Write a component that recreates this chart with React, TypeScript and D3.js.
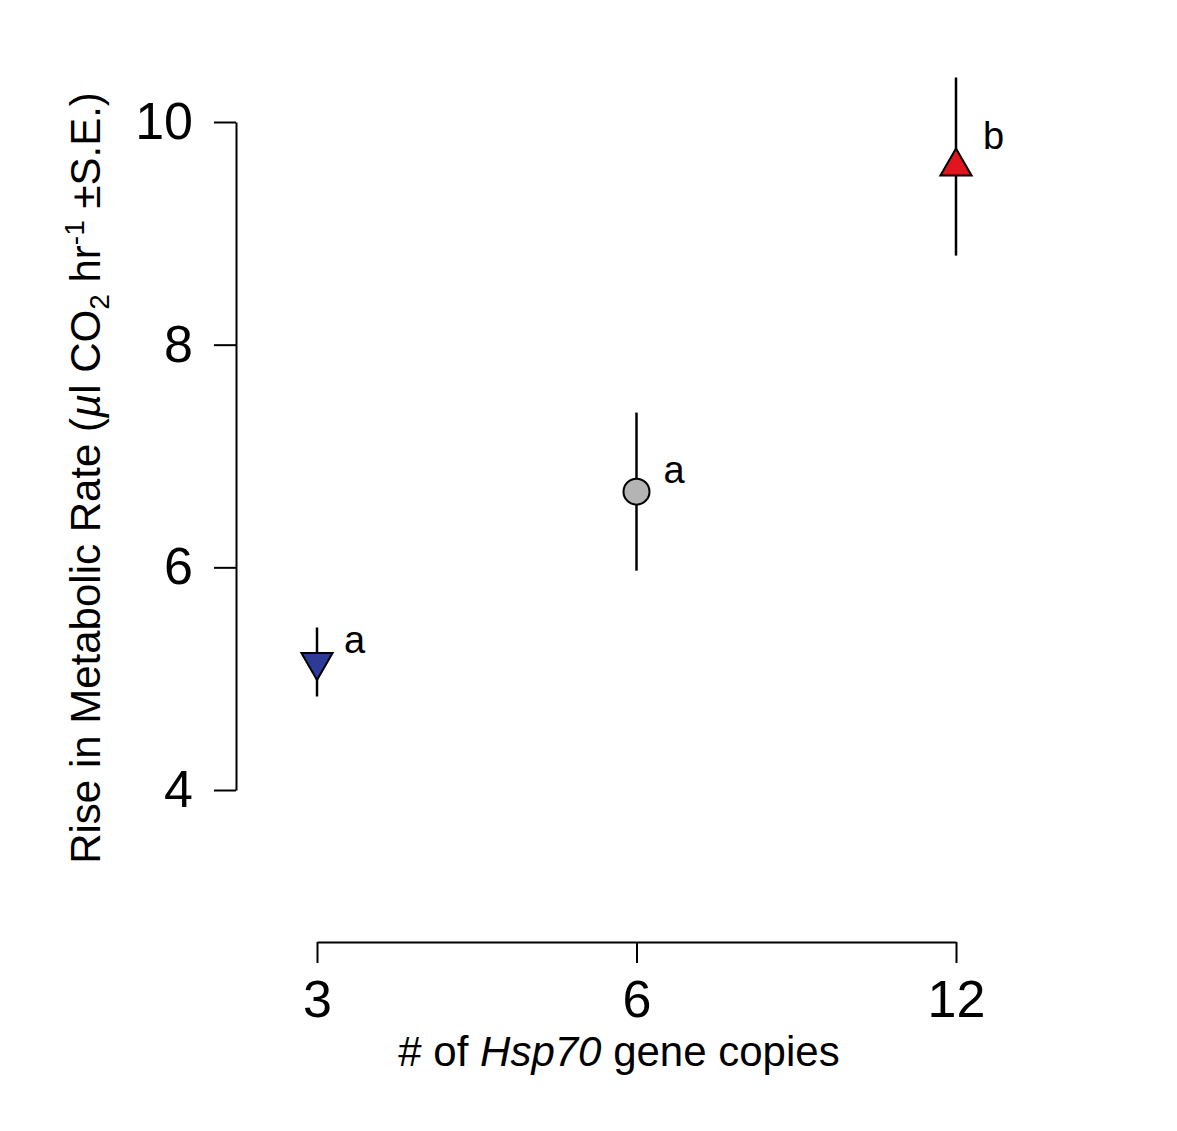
import React, { useRef, useEffect } from "react";
import * as d3 from "d3";

// gene copy groups and their measured rise in metabolic rate
const copies = ["3", "6", "12"];
const means = [5.15, 6.68, 9.6];
const se = [0.31, 0.71, 0.8];
const letters = ["a", "a", "b"];
const letterY = [5.23, 6.76, 9.76];
const yTicks = [4, 6, 8, 10];

const shapes = ["down", "circle", "up"];
const fills = ["#2b3b96", "#b4b4b4", "#e0151d"];

const W = 1177;
const H = 1131;
const FONT = "'Liberation Sans', Arial, Helvetica, sans-serif";

export default function App() {
  const ref = useRef<SVGSVGElement>(null);

  useEffect(() => {
    if (!ref.current) return;
    const svg = d3.select(ref.current);
    svg.selectAll("*").remove();

    const x = d3.scalePoint<string>().domain(copies).range([317, 956]);
    const y = d3.scaleLinear().domain([4, 10]).range([790, 122]);

    // y axis
    const ya = svg.append("g")
      .attr("transform", "translate(236,0)")
      .call(d3.axisLeft(y).tickValues(yTicks).tickSize(22).tickSizeOuter(0).tickPadding(21).tickFormat(d3.format("d")));
    ya.select(".domain").attr("stroke", "#000").attr("stroke-width", 2);
    ya.selectAll(".tick line").attr("stroke", "#000").attr("stroke-width", 2);
    ya.selectAll(".tick text").attr("font-size", 52).attr("font-family", FONT).attr("fill", "#000");

    // x axis
    const xa = svg.append("g")
      .attr("transform", "translate(0,942)")
      .call(d3.axisBottom(x).tickSize(21).tickSizeOuter(0).tickPadding(17));
    xa.select(".domain").attr("stroke", "#000").attr("stroke-width", 2);
    xa.selectAll(".tick line").attr("stroke", "#000").attr("stroke-width", 2);
    xa.selectAll(".tick text").attr("font-size", 52).attr("font-family", FONT).attr("fill", "#000");

    // error bars
    svg.append("g").selectAll("line")
      .data(copies)
      .join("line")
      .attr("x1", (d) => x(d)!)
      .attr("x2", (d) => x(d)!)
      .attr("y1", (d, i) => y(means[i] + se[i]))
      .attr("y2", (d, i) => y(means[i] - se[i]))
      .attr("stroke", "#000")
      .attr("stroke-width", 2.5);

    // points
    const tri = d3.symbol().type(d3.symbolTriangle).size(421);
    const circ = d3.symbol().type(d3.symbolCircle).size(531);
    svg.append("g").selectAll("path")
      .data(copies)
      .join("path")
      .attr("d", (d, i) => (shapes[i] === "circle" ? circ() : tri()) as string)
      .attr("transform", (d, i) =>
        `translate(${x(d)},${y(means[i])})` + (shapes[i] === "down" ? " rotate(180)" : ""))
      .attr("fill", (d, i) => fills[i])
      .attr("stroke", "#000")
      .attr("stroke-width", 2);

    // significance letters
    svg.append("g").selectAll("text")
      .data(copies)
      .join("text")
      .attr("x", (d) => x(d)! + 27)
      .attr("y", (d, i) => y(letterY[i]))
      .attr("font-size", 38)
      .attr("font-family", FONT)
      .text((d, i) => letters[i]);

    // x label
    const xl = svg.append("text")
      .attr("x", 619)
      .attr("y", 1066)
      .attr("text-anchor", "middle")
      .attr("font-size", 42)
      .attr("font-family", FONT);
    xl.append("tspan").text("# of ");
    xl.append("tspan").attr("font-style", "italic").text("Hsp70");
    xl.append("tspan").text(" gene copies");

    // y label
    const yl = svg.append("text")
      .attr("transform", "translate(100,478) rotate(-90)")
      .attr("text-anchor", "middle")
      .attr("font-size", 42)
      .attr("font-family", FONT);
    yl.append("tspan").text("Rise in Metabolic Rate (");
    yl.append("tspan").attr("font-style", "italic").text("\u00b5");
    yl.append("tspan").text("l CO");
    yl.append("tspan").attr("font-size", 28).attr("dy", 9).text("2");
    yl.append("tspan").attr("dy", -9).text(" hr");
    yl.append("tspan").attr("font-size", 28).attr("dy", -16).text("-1");
    yl.append("tspan").attr("dy", 16).text(" \u00b1S.E.)");
  }, []);

  return (
    <>
      <style>{`body{margin:0}`}</style>
      <svg ref={ref} width={W} height={H} style={{ display: "block", background: "#fff" }} />
    </>
  );
}
